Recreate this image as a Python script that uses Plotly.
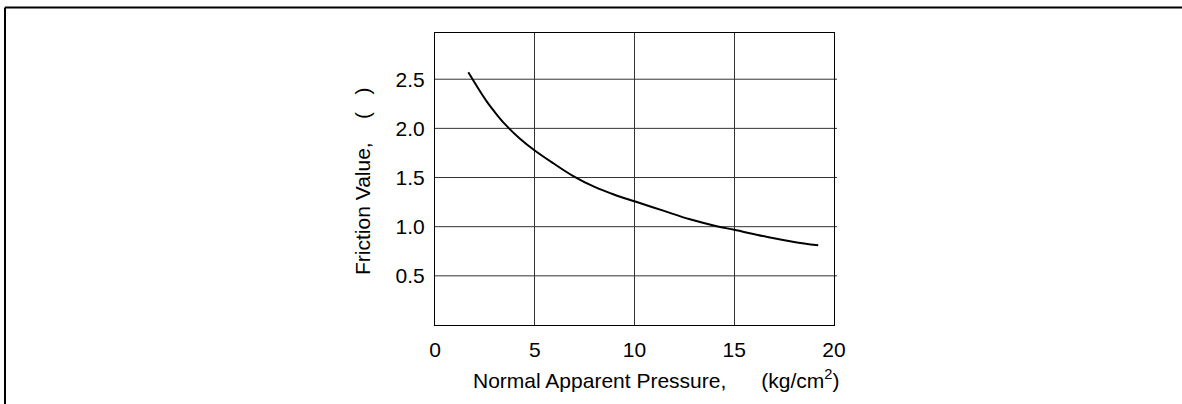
import plotly.graph_objects as go

# Friction value vs. normal apparent pressure
pressure = [1.67, 2.2, 2.59, 3.0, 3.52, 4.26, 5.0, 5.93, 6.93, 8.0, 9.0, 10.0,
            11.44, 12.78, 14.12, 15.0, 16.79, 18.0, 19.21]
friction = [2.57, 2.395, 2.275, 2.165, 2.04, 1.895, 1.775, 1.645, 1.515, 1.405, 1.325, 1.258,
            1.163, 1.075, 1.005, 0.968, 0.89, 0.845, 0.81]

x_ticks = [0, 5, 10, 15, 20]
y_ticks = [0.5, 1.0, 1.5, 2.0, 2.5]
y_tick_text = ["0.5", "1.0", "1.5", "2.0", "2.5"]

x_title = "Normal Apparent Pressure,      (kg/cm<sup>2</sup>)"
y_title = "Friction Value,    (   )"

W, H = 1182, 404
L, R, T, B = 435, 834, 33, 325  # plot area in pixels


def px_x(px):
    return (px - L) / (R - L)


def px_y(py):
    return (B - py) / (B - T)


FONT = "Arial, Liberation Sans, sans-serif"
FS = 21

fig = go.Figure()
fig.add_trace(go.Scatter(
    x=pressure, y=friction, mode="lines",
    line=dict(color="black", width=2, shape="spline", smoothing=1.0),
    showlegend=False, hoverinfo="skip",
))

shapes = []
# horizontal grid lines, running slightly past the right border
for v in y_ticks:
    shapes.append(dict(type="line", xref="paper", yref="y", x0=0, x1=px_x(R + 3), y0=v, y1=v,
                       line=dict(color="#333333", width=1), layer="below"))
# outer frame (top and left edges)
shapes.append(dict(type="line", xref="paper", yref="paper", x0=px_x(5), x1=px_x(W + 5),
                   y0=px_y(7.5), y1=px_y(7.5), line=dict(color="black", width=2)))
shapes.append(dict(type="line", xref="paper", yref="paper", x0=px_x(5), x1=px_x(5),
                   y0=px_y(7.5), y1=px_y(H + 5), line=dict(color="black", width=2)))

annotations = [
    dict(text=x_title, xref="paper", yref="paper", x=px_x(656), y=px_y(379),
         showarrow=False, xanchor="center", yanchor="middle",
         font=dict(family=FONT, size=FS, color="black")),
    dict(text=y_title, xref="paper", yref="paper", x=px_x(362), y=px_y(181),
         showarrow=False, textangle=-90, xanchor="center", yanchor="middle",
         font=dict(family=FONT, size=FS, color="black")),
]

fig.update_layout(
    width=W, height=H,
    margin=dict(l=L, r=W - R, t=T, b=H - B, pad=0),
    paper_bgcolor="white", plot_bgcolor="white",
    shapes=shapes, annotations=annotations,
    font=dict(family=FONT, size=FS, color="black"),
)
fig.update_xaxes(
    range=[0, 20], tickvals=x_ticks, ticks="", ticklabelstandoff=6,
    showgrid=True, gridcolor="#333333", gridwidth=1,
    showline=True, linecolor="black", linewidth=1, mirror=True,
    zeroline=False, fixedrange=True,
    tickfont=dict(family=FONT, size=FS, color="black"),
)
fig.update_yaxes(
    range=[0, 2.97], tickvals=y_ticks, ticktext=y_tick_text, ticks="",
    ticklabelstandoff=5, showgrid=False,
    showline=True, linecolor="black", linewidth=1, mirror=True,
    zeroline=False, fixedrange=True,
    tickfont=dict(family=FONT, size=FS, color="black"),
)

fig.write_html("out.html", config={"displayModeBar": False})
